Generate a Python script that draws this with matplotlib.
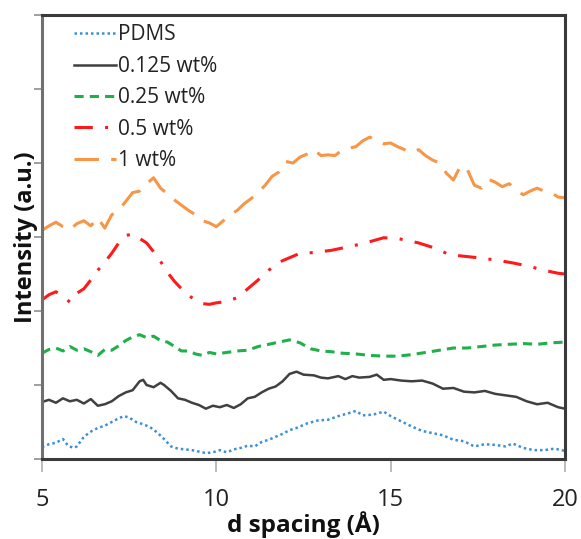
import matplotlib
matplotlib.use("Agg")
import matplotlib.pyplot as plt

plt.rcParams['font.family'] = ['Open Sans', 'DejaVu Sans']

# d spacing (Å) and intensity (a.u., stacked offsets) for each sample
pdms_d = [5.0, 5.2, 5.4, 5.6, 5.75, 5.9, 6.0, 6.2, 6.4, 6.6, 6.8, 7.0, 7.2, 7.35, 7.5, 7.7, 7.9, 8.1,
          8.3, 8.5, 8.7, 8.9, 9.1, 9.3, 9.5, 9.7, 9.9, 10.1, 10.3, 10.5, 10.7, 10.9, 11.1, 11.3, 11.5,
          11.7, 11.9, 12.1, 12.3, 12.6, 12.9, 13.2, 13.5, 13.8, 14.0, 14.2, 14.5, 14.8, 15.0, 15.3,
          15.6, 15.9, 16.2, 16.5, 16.8, 17.1, 17.4, 17.7, 18.0, 18.3, 18.5, 18.8, 19.1, 19.4, 19.7, 20.0]
pdms_i = [0.16, 0.20, 0.22, 0.27, 0.18, 0.15, 0.17, 0.30, 0.37, 0.42, 0.45, 0.50, 0.55, 0.58, 0.56,
          0.50, 0.47, 0.43, 0.36, 0.27, 0.17, 0.14, 0.13, 0.12, 0.10, 0.08, 0.09, 0.12, 0.09, 0.13,
          0.15, 0.18, 0.17, 0.23, 0.26, 0.30, 0.34, 0.39, 0.42, 0.48, 0.52, 0.53, 0.58, 0.62, 0.65,
          0.59, 0.60, 0.64, 0.58, 0.51, 0.44, 0.38, 0.35, 0.32, 0.26, 0.24, 0.17, 0.20, 0.19, 0.17,
          0.21, 0.15, 0.12, 0.12, 0.14, 0.11]

wt0125_d = [5.0, 5.2, 5.4, 5.6, 5.8, 6.0, 6.2, 6.4, 6.6, 6.8, 7.0, 7.2, 7.4, 7.6, 7.8, 7.9, 8.0, 8.2,
            8.4, 8.5, 8.7, 8.9, 9.1, 9.3, 9.5, 9.7, 9.9, 10.1, 10.3, 10.5, 10.7, 10.9, 11.1, 11.3,
            11.5, 11.7, 11.9, 12.1, 12.3, 12.5, 12.8, 13.0, 13.2, 13.5, 13.7, 13.9, 14.1, 14.4, 14.6,
            14.8, 15.0, 15.3, 15.6, 15.9, 16.2, 16.5, 16.8, 17.1, 17.4, 17.7, 18.0, 18.3, 18.6, 18.9,
            19.2, 19.5, 19.8, 20.0]
wt0125_i = [0.77, 0.80, 0.76, 0.82, 0.78, 0.80, 0.75, 0.81, 0.72, 0.74, 0.78, 0.85, 0.90, 0.93, 1.05,
            1.07, 1.00, 0.97, 1.03, 1.00, 0.92, 0.82, 0.80, 0.76, 0.73, 0.68, 0.72, 0.70, 0.73, 0.69,
            0.74, 0.82, 0.84, 0.90, 0.95, 0.98, 1.05, 1.15, 1.18, 1.14, 1.13, 1.10, 1.09, 1.12, 1.08,
            1.12, 1.10, 1.11, 1.14, 1.07, 1.08, 1.06, 1.05, 1.06, 1.02, 0.95, 0.96, 0.91, 0.90, 0.92,
            0.88, 0.86, 0.84, 0.78, 0.74, 0.76, 0.70, 0.68]

wt025_d = [5.0, 5.2, 5.4, 5.6, 5.8, 6.0, 6.2, 6.4, 6.6, 6.8, 7.0, 7.2, 7.4, 7.6, 7.8, 8.0, 8.2, 8.4,
           8.6, 8.8, 9.0, 9.2, 9.4, 9.6, 9.8, 10.0, 10.3, 10.6, 10.9, 11.2, 11.5, 11.8, 12.1, 12.4,
           12.7, 13.0, 13.3, 13.6, 14.0, 14.4, 14.8, 15.2, 15.6, 16.0, 16.4, 16.8, 17.2, 17.6, 18.0,
           18.4, 18.8, 19.2, 19.6, 20.0]
wt025_i = [1.43, 1.48, 1.50, 1.46, 1.52, 1.47, 1.49, 1.45, 1.40, 1.48, 1.47, 1.53, 1.60, 1.65, 1.68,
           1.64, 1.66, 1.60, 1.58, 1.52, 1.46, 1.46, 1.42, 1.40, 1.44, 1.42, 1.44, 1.46, 1.47, 1.52,
           1.55, 1.58, 1.61, 1.57, 1.49, 1.46, 1.45, 1.43, 1.42, 1.40, 1.39, 1.39, 1.41, 1.44, 1.47,
           1.50, 1.50, 1.52, 1.54, 1.55, 1.56, 1.55, 1.57, 1.58]

wt05_d = [5.0, 5.2, 5.4, 5.6, 5.8, 6.0, 6.2, 6.4, 6.6, 6.8, 7.0, 7.2, 7.4, 7.6, 7.8, 8.0, 8.2, 8.4,
          8.6, 8.8, 9.0, 9.2, 9.4, 9.6, 9.8, 10.0, 10.3, 10.6, 10.9, 11.2, 11.5, 11.8, 12.1, 12.4,
          12.8, 13.3, 13.7, 14.2, 14.8, 15.2, 15.8, 16.2, 16.7, 17.1, 17.5, 18.0, 18.5, 19.0, 19.4,
          19.8, 20.0]
wt05_i = [2.15, 2.22, 2.26, 2.20, 2.12, 2.24, 2.30, 2.42, 2.55, 2.66, 2.78, 2.92, 3.02, 3.04, 2.98,
          2.92, 2.80, 2.67, 2.52, 2.40, 2.30, 2.21, 2.15, 2.10, 2.09, 2.11, 2.13, 2.18, 2.30, 2.42,
          2.55, 2.66, 2.72, 2.78, 2.79, 2.82, 2.86, 2.91, 2.99, 2.98, 2.92, 2.86, 2.76, 2.74, 2.72,
          2.69, 2.65, 2.60, 2.55, 2.51, 2.50]

wt1_d = [5.0, 5.2, 5.4, 5.6, 5.8, 6.0, 6.2, 6.4, 6.6, 6.8, 7.0, 7.2, 7.4, 7.6, 7.8, 8.0, 8.2, 8.4,
         8.6, 8.8, 9.0, 9.2, 9.4, 9.6, 9.8, 10.0, 10.2, 10.4, 10.6, 10.8, 11.0, 11.2, 11.4, 11.6,
         11.8, 12.0, 12.2, 12.4, 12.6, 12.8, 13.0, 13.2, 13.4, 13.6, 13.8, 14.0, 14.2, 14.4, 14.6,
         14.8, 15.0, 15.2, 15.4, 15.6, 15.8, 16.0, 16.2, 16.4, 16.6, 16.8, 17.0, 17.2, 17.4, 17.6,
         17.8, 18.0, 18.2, 18.4, 18.6, 18.8, 19.0, 19.2, 19.4, 19.6, 19.8, 20.0]
wt1_i = [3.09, 3.15, 3.20, 3.14, 3.10, 3.18, 3.22, 3.15, 3.26, 3.12, 3.30, 3.36, 3.48, 3.60, 3.62,
         3.72, 3.80, 3.66, 3.58, 3.50, 3.43, 3.36, 3.30, 3.22, 3.19, 3.14, 3.22, 3.30, 3.36, 3.45,
         3.52, 3.60, 3.70, 3.82, 3.88, 4.02, 4.00, 4.08, 4.12, 4.18, 4.10, 4.11, 4.10, 4.17, 4.20,
         4.22, 4.30, 4.35, 4.30, 4.26, 4.27, 4.22, 4.18, 4.14, 4.18, 4.10, 4.04, 4.00, 3.86, 3.77,
         3.96, 3.91, 3.70, 3.66, 3.78, 3.74, 3.68, 3.72, 3.64, 3.57, 3.62, 3.66, 3.62, 3.60, 3.54,
         3.53]

labels = ["PDMS", "0.125 wt%", "0.25 wt%", "0.5 wt%", "1 wt%"]

x_ticks = [5, 10, 15, 20]
y_ticks = [0, 1, 2, 3, 4, 5, 6]

fig = plt.figure(figsize=(5.81, 5.39), dpi=100)
ax = fig.add_axes([0.0723, 0.1484, 0.9002, 0.8238])

ax.plot(pdms_d, pdms_i, color="#3a8fd9", lw=1.8, ls=(0, (1, 1.2)), label=labels[0])
ax.plot(wt0125_d, wt0125_i, color="#404040", lw=1.8, ls="-", label=labels[1])
ax.plot(wt025_d, wt025_i, color="#1fb04a", lw=2.2, ls=(0, (3, 2)), label=labels[2])
ax.plot(wt05_d, wt05_i, color="#ff1a1a", lw=2.2, ls=(0, (6, 4, 1, 4)), label=labels[3])
ax.plot(wt1_d, wt1_i, color="#f79646", lw=2.2, ls=(0, (8, 4)), label=labels[4])

ax.set_xlim(5, 20)
ax.set_ylim(0, 6)
ax.set_xticks(x_ticks)
ax.set_xticklabels([str(t) for t in x_ticks])
ax.set_yticks(y_ticks)
ax.set_yticklabels([])

for side in ["top", "right", "bottom"]:
    ax.spines[side].set_color("#3a3a3a")
    ax.spines[side].set_linewidth(2.2)
ax.spines["left"].set_color("#707070")
ax.spines["left"].set_linewidth(2.2)

ax.tick_params(axis="x", direction="out", length=9, width=1.2, color="#b0b0b0",
               labelsize=17, pad=12, labelcolor="#222222")
ax.tick_params(axis="y", direction="out", length=6, width=1.2, color="#909090")

ax.set_xlabel("d spacing (Å)", fontsize=17.5, fontweight="bold", labelpad=-1, color="#111111")
ax.set_ylabel("Intensity (a.u.)", fontsize=17, fontweight="bold", color="#111111")
ax.yaxis.set_label_coords(-0.008, 0.5)

leg = ax.legend(loc="upper left", frameon=False, fontsize=15, handlelength=2.0,
                handletextpad=0.1, labelspacing=0.5, borderaxespad=0.2,
                bbox_to_anchor=(0.037, 1.007))
for t in leg.get_texts():
    t.set_color("#222222")

fig.savefig("out.png", dpi=100)
